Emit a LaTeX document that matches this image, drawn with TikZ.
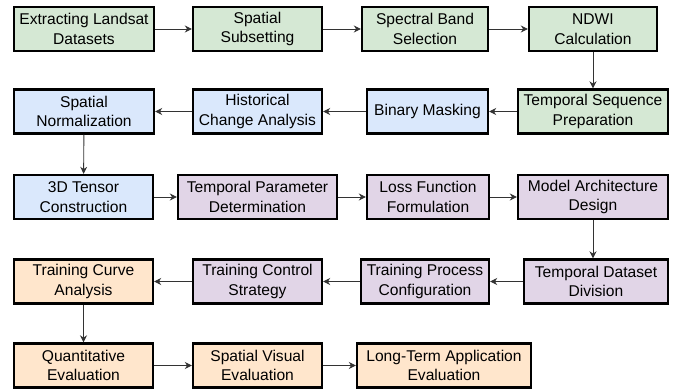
\documentclass[tikz,border=0pt]{standalone}
\usepackage{fontspec}
\setmainfont{Liberation Sans}
\usepackage{tikz}
\usetikzlibrary{arrows.meta}
\definecolor{prepgreen}{HTML}{D5E8D4}
\definecolor{procblue}{HTML}{DAE8FC}
\definecolor{modelpurple}{HTML}{E1D5E7}
\definecolor{evalorange}{HTML}{FFE6CC}
\tikzset{
    stagebox/.style={draw=black, line width=2.4pt, minimum height=44pt, inner sep=0pt,
        align=center, font=\fontsize{15.6}{19.5}\selectfont},
    flowarrow/.style={draw=black!80, line width=0.9pt, -{Stealth[length=7pt, width=7pt]}}
}

\begin{document}
\begin{tikzpicture}[x=1pt, y=-1pt]
            \useasboundingbox (0,0) rectangle (675,389);
            % row 1
            \node[stagebox, fill=prepgreen, minimum width=140pt] (extract) at (84,29) {Extracting Landsat\\Datasets};
            \node[stagebox, fill=prepgreen, minimum width=129pt] (subset) at (257.5,29) {Spatial\\Subsetting};
            \node[stagebox, fill=prepgreen, minimum width=126pt] (bands) at (425,29) {Spectral Band\\Selection};
            \node[stagebox, fill=prepgreen, minimum width=128pt] (ndwi) at (593,29) {NDWI\\Calculation};
            % row 2
            \node[stagebox, fill=procblue, minimum width=140pt] (normalize) at (84,111.5) {Spatial\\Normalization};
            \node[stagebox, fill=procblue, minimum width=129pt] (history) at (257.5,111.5) {Historical\\Change Analysis};
            \node[stagebox, fill=procblue, minimum width=121pt] (masking) at (427.5,111.5) {Binary Masking};
            \node[stagebox, fill=prepgreen, minimum width=150pt] (sequence) at (593,111.5) {Temporal Sequence\\Preparation};
            % row 3
            \node[stagebox, fill=procblue, minimum width=139pt] (tensor) at (83.5,197) {3D Tensor\\Construction};
            \node[stagebox, fill=modelpurple, minimum width=159pt] (params) at (257.5,197) {Temporal Parameter\\Determination};
            \node[stagebox, fill=modelpurple, minimum width=122pt] (loss) at (428,197) {Loss Function\\Formulation};
            \node[stagebox, fill=modelpurple, minimum width=150pt] (arch) at (593,197) {Model Architecture\\Design};
            % row 4
            \node[stagebox, fill=evalorange, minimum width=139pt] (curve) at (83.5,281.5) {Training Curve\\Analysis};
            \node[stagebox, fill=modelpurple, minimum width=129pt] (control) at (257.5,281.5) {Training Control\\Strategy};
            \node[stagebox, fill=modelpurple, minimum width=128pt] (config) at (425,281.5) {Training Process\\Configuration};
            \node[stagebox, fill=modelpurple, minimum width=144pt] (division) at (596,281.5) {Temporal Dataset\\Division};
            % row 5
            \node[stagebox, fill=evalorange, minimum width=139pt] (quant) at (83.5,365.5) {Quantitative\\Evaluation};
            \node[stagebox, fill=evalorange, minimum width=129pt] (visual) at (257.5,365.5) {Spatial Visual\\Evaluation};
            \node[stagebox, fill=evalorange, minimum width=174pt] (longterm) at (444,365.5) {Long-Term Application\\Evaluation};

            \draw[flowarrow] (extract) -- (subset);
            \draw[flowarrow] (subset) -- (bands);
            \draw[flowarrow] (bands) -- (ndwi);
            \draw[flowarrow] (ndwi) -- (sequence);
            \draw[flowarrow] (sequence) -- (masking);
            \draw[flowarrow] (masking) -- (history);
            \draw[flowarrow] (history) -- (normalize);
            \draw[flowarrow] (normalize) -- (tensor);
            \draw[flowarrow] (tensor) -- (params);
            \draw[flowarrow] (params) -- (loss);
            \draw[flowarrow] (loss) -- (arch);
            \draw[flowarrow] (arch.south) -- (arch.south |- division.north);
            \draw[flowarrow] (division) -- (config);
            \draw[flowarrow] (config) -- (control);
            \draw[flowarrow] (control) -- (curve);
            \draw[flowarrow] (curve) -- (quant);
            \draw[flowarrow] (quant) -- (visual);
            \draw[flowarrow] (visual) -- (longterm);
        \end{tikzpicture}
\end{document}
